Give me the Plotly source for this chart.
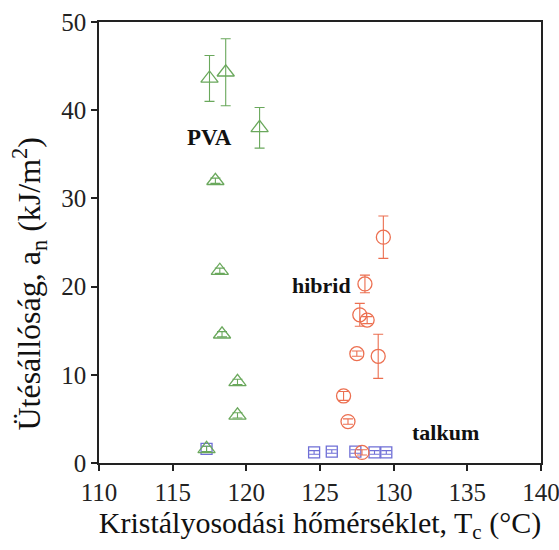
import plotly.graph_objects as go

# PVA series (triangles)
pva_x = [117.5, 118.6, 120.9, 117.9, 118.2, 118.35, 119.4, 119.4, 117.3]
pva_y = [43.6, 44.3, 38.0, 32.0, 21.8, 14.6, 9.2, 5.4, 1.6]
pva_err = [2.6, 3.8, 2.3, 0.3, 0.3, 0.3, 0.3, 0.3, 0.3]

# hibrid series (circles)
hib_x = [129.3, 128.05, 127.7, 128.2, 127.5, 128.95, 126.6, 126.9, 127.85]
hib_y = [25.6, 20.3, 16.8, 16.2, 12.4, 12.1, 7.6, 4.7, 1.2]
hib_err = [2.4, 1.0, 1.3, 0.4, 0.3, 2.5, 0.5, 0.3, 0.3]

# talkum series (squares)
tal_x = [117.3, 124.6, 125.8, 127.4, 128.7, 129.5]
tal_y = [1.6, 1.2, 1.3, 1.3, 1.2, 1.2]
tal_err = [0.3, 0.2, 0.2, 0.2, 0.2, 0.2]

x_ticks = [110, 115, 120, 125, 130, 135, 140]
y_ticks = [0, 10, 20, 30, 40, 50]

green = "#6aa85c"
red = "#ec6f50"
blue = "#6f6fd6"
font = "Liberation Serif"

fig = go.Figure()

def add(x, y, err, color, symbol, size):
    fig.add_trace(go.Scatter(
        x=x, y=y, mode="markers",
        marker=dict(symbol=symbol, size=size, color=color,
                    line=dict(color=color, width=1.3)),
        error_y=dict(type="data", array=err, visible=True, color=color,
                     thickness=1.1, width=5),
        showlegend=False,
    ))

add(tal_x, tal_y, tal_err, blue, "square-open", 11)
add(pva_x, pva_y, pva_err, green, "triangle-up-open", 15)
add(hib_x, hib_y, hib_err, red, "circle-open", 14)

fig.add_annotation(x=117.47, y=36.9, text="<b>PVA</b>", showarrow=False,
                   font=dict(family=font, size=23, color="#111"))
fig.add_annotation(x=125.1, y=20.1, text="<b>hibrid</b>", showarrow=False,
                   font=dict(family=font, size=22, color="#111"))
fig.add_annotation(x=133.5, y=3.5, text="<b>talkum</b>", showarrow=False,
                   font=dict(family=font, size=22, color="#111"))

# y-axis title placed as a rotated annotation (reference sits lower than axis centre)
fig.add_annotation(xref="paper", yref="paper", x=-0.158, y=0.405,
                   xanchor="center", yanchor="middle",
                   text="Ütésállóság, a<sub>n</sub> (kJ/m<sup>2</sup>)",
                   textangle=-90, showarrow=False,
                   font=dict(family=font, size=32, color="#111"))

axis_common = dict(showgrid=False, zeroline=False, showline=True,
                   linecolor="#222", linewidth=1.5, mirror=True,
                   ticks="outside", ticklen=6, tickwidth=1.5, tickcolor="#222",
                   ticklabeloverflow="allow", automargin=False,
                   tickfont=dict(family=font, size=25, color="#222"))

fig.update_layout(
    width=559, height=550,
    margin=dict(l=99, r=18, t=22, b=87),
    plot_bgcolor="white", paper_bgcolor="white",
    xaxis=dict(range=[110, 140], tickvals=x_ticks,
               title=dict(text="Kristályosodási hőmérséklet, T<sub>c</sub> (°C)",
                          font=dict(family=font, size=30, color="#111"), standoff=4),
               **axis_common),
    yaxis=dict(range=[0, 50], tickvals=y_ticks, **axis_common),
)

fig.write_html("out.html")
